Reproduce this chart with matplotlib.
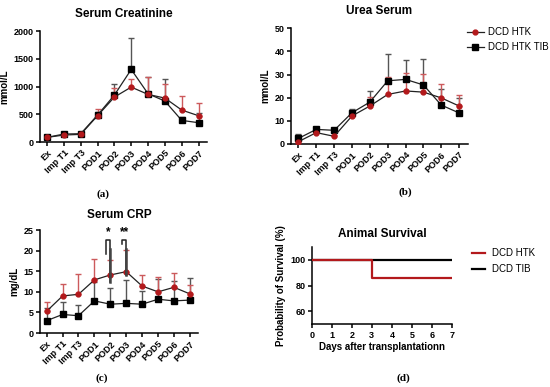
import numpy as np
import matplotlib
matplotlib.use("Agg")
import matplotlib.pyplot as plt
from matplotlib.lines import Line2D

plt.rcParams.update({
    "font.family": "Liberation Sans",
    "font.weight": "bold",
    "axes.linewidth": 1.1,
    "xtick.major.width": 1.1,
    "ytick.major.width": 1.1,
    "xtick.major.size": 3,
    "ytick.major.size": 3,
    "xtick.labelsize": 6.5,
    "ytick.labelsize": 6.5,
})

timepoints = ["Ex", "Imp T1", "Imp T3", "POD1", "POD2", "POD3", "POD4", "POD5", "POD6", "POD7"]

# serum creatinine (mmol/L): mean and upper SD
htk_crea = [84, 126, 138, 474, 810, 990, 858, 792, 576, 474]
htk_crea_sd = [20, 20, 20, 120, 156, 138, 318, 246, 252, 234]
tib_crea = [84, 144, 150, 486, 846, 1308, 870, 738, 390, 348]
tib_crea_sd = [25, 25, 20, 50, 198, 558, 294, 402, 60, 168]

# urea serum (mmol/L)
htk_urea = [1.0, 4.9, 3.3, 12.1, 16.4, 21.4, 22.9, 22.4, 19.9, 16.4]
htk_urea_sd = [0.5, 0.8, 0.6, 2.3, 4.0, 7.4, 7.9, 7.8, 6.1, 4.8]
tib_urea = [2.4, 6.3, 5.9, 13.5, 18.1, 27.3, 27.9, 25.5, 16.8, 13.4]
tib_urea_sd = [1.8, 0.8, 0.5, 1.8, 4.6, 11.5, 8.4, 11.0, 6.8, 6.3]

# serum CRP (mg/dL)
htk_crp = [5.3, 9.0, 9.4, 12.9, 14.1, 14.9, 11.4, 10.0, 11.1, 9.5]
htk_crp_sd = [2.3, 2.9, 4.9, 5.1, 3.6, 5.2, 2.8, 3.7, 3.5, 2.2]
tib_crp = [3.0, 4.5, 4.2, 7.8, 7.0, 7.2, 7.0, 8.2, 7.8, 8.0]
tib_crp_sd = [3.1, 3.1, 2.6, 4.5, 3.9, 5.7, 3.1, 5.0, 4.9, 5.4]

# animal survival (%)
htk_days = [0, 3, 7]
htk_surv = [100, 85.7, 85.7]
tib_days = [0, 7]
tib_surv = [100, 100]

RED = "#b3191c"
RED_ERR = "#cc5a5c"
GREY_ERR = "#555555"

fig = plt.figure(figsize=(5.5, 3.87), dpi=100)


def style(ax):
    ax.spines["top"].set_visible(False)
    ax.spines["right"].set_visible(False)


def series_panel(ax, htk, htk_sd, tib, tib_sd, ylim, yticks, ylabel, title, pad=9):
    x = np.arange(len(timepoints))
    zeros = np.zeros(len(x))
    ax.errorbar(x, tib, yerr=[zeros, tib_sd], fmt="none", ecolor=GREY_ERR,
                elinewidth=1, capsize=2, capthick=1, zorder=2)
    ax.errorbar(x, htk, yerr=[zeros, htk_sd], fmt="none", ecolor=RED_ERR,
                elinewidth=1, capsize=2, capthick=1, zorder=2)
    ax.plot(x, tib, color="#222222", lw=0.9, marker="s", ms=5,
            mfc="black", mec="black", zorder=3)
    ax.plot(x, htk, color="#222222", lw=0.9, marker="o", ms=3.5,
            mfc=RED, mec=RED, zorder=4)
    ax.set_xlim(-0.42, 9.5)
    ax.set_ylim(*ylim)
    ax.set_yticks(yticks)
    ax.set_xticks(x)
    ax.set_xticklabels(timepoints, rotation=45, ha="right",
                       rotation_mode="anchor")
    ax.tick_params(axis="x", pad=1.5)
    ax.tick_params(axis="y", pad=1.5)
    ax.set_ylabel(ylabel, fontsize=7, fontweight="bold", labelpad=3)
    ax.set_title(title, fontsize=8.5, fontweight="bold", pad=pad)
    style(ax)


ax_a = fig.add_axes([0.0727, 0.633, 0.3036, 0.2868])
series_panel(ax_a, htk_crea, htk_crea_sd, tib_crea, tib_crea_sd,
             (0, 2000), [0, 500, 1000, 1500, 2000], "mmol/L", "Serum Creatinine",
             pad=10)

ax_b = fig.add_axes([0.529, 0.628, 0.322, 0.299])
series_panel(ax_b, htk_urea, htk_urea_sd, tib_urea, tib_urea_sd,
             (0, 50), [0, 10, 20, 30, 40, 50], "mmol/L", "Urea Serum", pad=10)
handles = [
    Line2D([], [], color="#222222", lw=0.9, marker="o", ms=3.5, mfc=RED, mec=RED),
    Line2D([], [], color="#222222", lw=0.9, marker="s", ms=5, mfc="black", mec="black"),
]
fig.legend(handles, ["DCD HTK", "DCD HTK TIB"], loc="upper left",
           bbox_to_anchor=(467 / 550, 1 - 27 / 387), frameon=False,
           borderpad=0, borderaxespad=0, handlelength=1.7,
           handletextpad=0.45, labelspacing=0.55,
           prop={"family": "Liberation Sans", "size": 7, "weight": "normal"})

ax_c = fig.add_axes([0.0727, 0.1395, 0.287, 0.266])
series_panel(ax_c, htk_crp, htk_crp_sd, tib_crp, tib_crp_sd,
             (0, 25), [0, 5, 10, 15, 20, 25], "mg/dL", "Serum CRP")

# significance brackets
for xi, left_low, right_low, star in [(4, 19.2, 12.5, "*"), (5, 21.6, 14.1, "**")]:
    ax_c.plot([xi - 0.27, xi - 0.27, xi, xi], [left_low, 22.6, 22.6, right_low],
              color="#222222", lw=1.1, clip_on=False, zorder=5)
    ax_c.plot([xi, xi], [right_low, 20.5], color="#444444", lw=1.8, zorder=5)
    ax_c.text(xi - 0.13, 23.0, star, ha="center", va="bottom", fontsize=8.5,
              fontweight="bold")

ax_d = fig.add_axes([0.567, 0.162, 0.2545, 0.2005])
ax_d.step(tib_days, tib_surv, where="post", color="black", lw=1.6, zorder=2)
ax_d.step(htk_days, htk_surv, where="post", color=RED, lw=1.6, zorder=3)
ax_d.set_xlim(0, 7)
ax_d.set_ylim(50, 110)
ax_d.set_xticks(range(8))
ax_d.set_yticks([60, 80, 100])
ax_d.tick_params(axis="both", pad=1.5)
ax_d.set_xlabel("Days after transplantationn", fontsize=7, fontweight="bold",
                labelpad=2)
ax_d.set_ylabel("Probability of Survival (%)", fontsize=7, fontweight="bold",
                labelpad=3)
ax_d.set_title("Animal Survival", fontsize=8.5, fontweight="bold", pad=7)
style(ax_d)
handles_d = [Line2D([], [], color=RED, lw=1.6), Line2D([], [], color="black", lw=1.6)]
fig.legend(handles_d, ["DCD HTK", "DCD TIB"], loc="upper left",
           bbox_to_anchor=(472 / 550, 1 - 248 / 387), frameon=False,
           borderpad=0, borderaxespad=0, handlelength=1.3,
           handletextpad=0.8, labelspacing=0.65,
           prop={"family": "Liberation Sans", "size": 7, "weight": "normal"})

# panel letters
for label, x, y in [("(a)", 103, 194), ("(b)", 405, 192), ("(c)", 102, 378), ("(d)", 403, 378)]:
    fig.text(x / 550, 1 - y / 387, label, ha="center", va="center",
             fontsize=8, family="Liberation Serif", fontweight="bold")

fig.savefig("out.png", dpi=100)
